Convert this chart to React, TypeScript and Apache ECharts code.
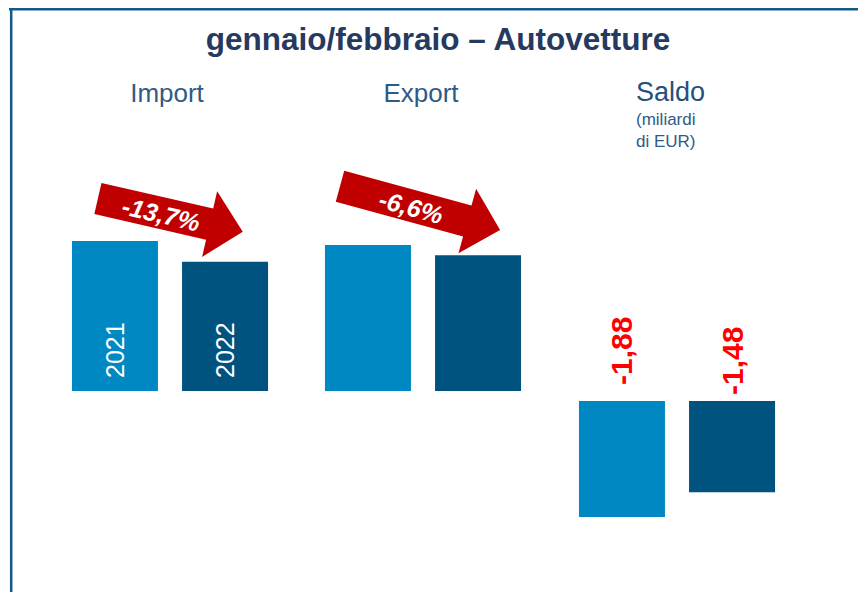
import React, { useEffect, useRef } from "react";
import * as echarts from "echarts";

const categories = ["Import", "Export", "Saldo"];
const years = ["2021", "2022"];
const importValues = [3.89, 3.35];
const exportValues = [2.01, 1.87];
const saldoValues = [-1.88, -1.48];
const changeLabels = ["-13,7%", "-6,6%"];
const titleText = "gennaio/febbraio – Autovetture";
const saldoUnit = "(miliardi\ndi EUR)";

const COLORS = ["#0088c2", "#00527f"];
const FONT = "Liberation Sans, Arial, sans-serif";

function arrow(x: number, y: number, len: number, head: number, half: number, headHalf: number, angleDeg: number, fill: string) {
  const ls = len - head;
  return {
    type: "polygon",
    x,
    y,
    rotation: (-angleDeg * Math.PI) / 180,
    shape: {
      points: [
        [0, -half],
        [ls, -half],
        [ls, -headHalf],
        [len, 0],
        [ls, headHalf],
        [ls, half],
        [0, half],
      ],
    },
    style: { fill },
    silent: true,
  };
}

export default function App() {
  const ref = useRef<HTMLDivElement>(null);
  useEffect(() => {
    document.body.style.margin = "0";
    const chart = echarts.init(ref.current!, null, { renderer: "svg" });
    const groups = [importValues, exportValues, saldoValues];
    const grids = [
      { left: 45, width: 250, top: 198.2, height: 192.8 },
      { left: 298, width: 250, top: 209.4, height: 181.6 },
      { left: 552, width: 250, top: 401, height: 123.4 },
    ];
    const yRanges = [
      [0, 5],
      [0, 2.5],
      [-2, 0],
    ];
    const saldoDist = [16, 6];
    const series: any[] = [];
    groups.forEach((vals, g) => {
      years.forEach((yr, i) => {
        const s: any = {
          type: "bar",
          name: yr,
          xAxisIndex: g,
          yAxisIndex: g,
          data: [vals[i]],
          barWidth: 86,
          barGap: "28%",
          itemStyle: { color: COLORS[i] },
        };
        if (g === 0) {
          s.label = {
            show: true,
            position: "insideBottom",
            rotate: 90,
            align: "left",
            verticalAlign: "middle",
            distance: 13,
            formatter: () => yr,
            color: "#ffffff",
            fontSize: 25,
            fontFamily: FONT,
          };
        } else if (g === 2) {
          s.label = {
            show: true,
            position: "top",
            rotate: 90,
            align: "left",
            verticalAlign: "middle",
            distance: saldoDist[i],
            formatter: (p: any) => Number(p.value).toFixed(2).replace(".", ","),
            color: "#ff0000",
            fontSize: 30,
            fontWeight: "bold",
            fontFamily: FONT,
          };
        }
        series.push(s);
      });
    });

    const option: any = {
      animation: false,
      grid: grids,
      xAxis: grids.map((_, g) => ({
        type: "category",
        gridIndex: g,
        data: [categories[g]],
        show: false,
      })),
      yAxis: grids.map((_, g) => ({
        type: "value",
        gridIndex: g,
        min: yRanges[g][0],
        max: yRanges[g][1],
        show: false,
      })),
      series,
      graphic: [
        { type: "line", shape: { x1: 9, y1: 9.2, x2: 858, y2: 9.2 }, style: { stroke: "#135a8c", lineWidth: 2.5 }, silent: true },
        { type: "line", shape: { x1: 11.2, y1: 8, x2: 11.2, y2: 592 }, style: { stroke: "#135a8c", lineWidth: 2.5 }, silent: true },
        {
          type: "text",
          x: 438,
          y: 38.5,
          style: { text: titleText, fill: "#26395f", font: `bold 31.5px ${FONT}`, textAlign: "center", textVerticalAlign: "middle", align: "center", verticalAlign: "middle" },
          silent: true,
        },
        {
          type: "text",
          x: 167,
          y: 93,
          style: { text: categories[0], fill: "#2f5a86", font: `26px ${FONT}`, textAlign: "center", textVerticalAlign: "middle", align: "center", verticalAlign: "middle" },
          silent: true,
        },
        {
          type: "text",
          x: 421,
          y: 93,
          style: { text: categories[1], fill: "#2f5a86", font: `26px ${FONT}`, textAlign: "center", textVerticalAlign: "middle", align: "center", verticalAlign: "middle" },
          silent: true,
        },
        {
          type: "text",
          x: 636,
          y: 92,
          style: { text: categories[2], fill: "#24507e", font: `27px ${FONT}`, textAlign: "left", textVerticalAlign: "middle", align: "left", verticalAlign: "middle" },
          silent: true,
        },
        {
          type: "text",
          x: 636,
          y: 130,
          style: { text: saldoUnit, fill: "#2f5a86", font: `17px ${FONT}`, lineHeight: 22, textAlign: "left", textVerticalAlign: "middle", align: "left", verticalAlign: "middle" },
          silent: true,
        },
        arrow(97.9, 198.5, 148.6, 34, 16, 33.7, 12.9, "#c00000"),
        arrow(340, 186.2, 165.9, 34, 16, 33.4, 15.3, "#c00000"),
        {
          type: "text",
          x: 161,
          y: 214,
          rotation: (-12.9 * Math.PI) / 180,
          style: { text: changeLabels[0], fill: "#ffffff", font: `italic bold 25px ${FONT}`, textAlign: "center", textVerticalAlign: "middle", align: "center", verticalAlign: "middle" },
          silent: true,
        },
        {
          type: "text",
          x: 411,
          y: 207,
          rotation: (-15.3 * Math.PI) / 180,
          style: { text: changeLabels[1], fill: "#ffffff", font: `italic bold 25px ${FONT}`, textAlign: "center", textVerticalAlign: "middle", align: "center", verticalAlign: "middle" },
          silent: true,
        },
      ],
    };
    chart.setOption(option);
    return () => chart.dispose();
  }, []);
  return <div ref={ref} style={{ width: 858, height: 592, background: "#ffffff" }} />;
}
